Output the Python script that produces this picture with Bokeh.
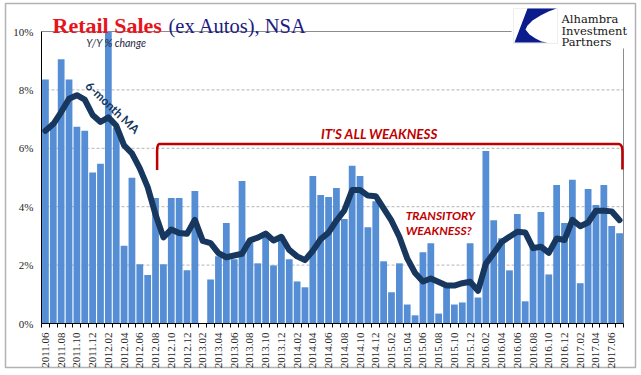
import math
from bokeh.plotting import figure
from bokeh.models import (ColumnDataSource, FixedTicker, Label, BoxAnnotation,
                          PolyAnnotation)
from bokeh.embed import file_html
from bokeh.resources import INLINE

# ---------------- data ----------------
months = [f"{2011 + (5 + i) // 12}.{(5 + i) % 12 + 1:02d}" for i in range(74)]

retail_yoy = [8.36, 6.90, 9.05, 8.36, 6.74, 6.60, 5.17, 5.47, 9.99, 6.71,
              2.66, 4.99, 2.03, 1.66, 4.30, 2.03, 4.30, 4.30, 1.82, 4.54,
              0.00, 1.51, 2.30, 3.44, 2.20, 4.88, 2.77, 2.06, 3.13, 1.99,
              2.99, 2.20, 1.44, 1.24, 5.05, 4.40, 4.33, 4.64, 3.58, 5.40,
              5.05, 3.30, 4.19, 2.13, 1.07, 2.06, 0.65, 0.28, 2.44, 2.75,
              0.34, 1.35, 0.65, 0.72, 2.75, 0.89, 5.91, 3.54, 2.92, 1.82,
              3.75, 0.76, 2.70, 3.82, 1.68, 4.74, 3.44, 4.92, 1.38, 4.61,
              4.06, 4.74, 3.34, 3.09]

ma_6m = [6.60, 6.83, 7.24, 7.70, 7.82, 7.67, 7.14, 6.90, 7.06, 6.78,
         6.10, 5.83, 5.31, 4.67, 3.73, 2.95, 3.22, 3.10, 3.07, 3.55,
         2.83, 2.75, 2.41, 2.27, 2.33, 2.39, 2.85, 2.94, 3.08, 2.84,
         2.97, 2.52, 2.30, 2.17, 2.49, 2.89, 3.11, 3.52, 3.87, 4.57,
         4.57, 4.38, 4.36, 3.94, 3.52, 2.97, 2.23, 1.73, 1.44, 1.54,
         1.42, 1.30, 1.30, 1.38, 1.43, 1.12, 2.05, 2.41, 2.79, 2.97,
         3.14, 3.12, 2.58, 2.63, 2.42, 2.91, 2.86, 3.55, 3.33, 3.46,
         3.86, 3.86, 3.84, 3.54]

y_ticks = [0, 2, 4, 6, 8, 10]
y_tick_labels = ["0%", "2%", "4%", "6%", "8%", "10%"]
grid_levels = [2, 4, 6, 8]

n = len(months)
idx = list(range(n))
src = ColumnDataSource(dict(x=idx, month=months, yoy=retail_yoy, ma=ma_6m))

# ---------------- figure ----------------
W, H = 641, 375
# plot area in the picture: x 41..623 px, y 31 (10%) .. 323 (0%) px
PX_PER_BAR = 582 / n
PX_PER_PCT = 29.2
x0 = -0.5 - 41 / PX_PER_BAR
x1 = n - 0.5 + (W - 623) / PX_PER_BAR
y0 = -(H - 323) / PX_PER_PCT
y1 = 10 + 31 / PX_PER_PCT

p = figure(width=W, height=H, output_backend="svg", toolbar_location=None,
           x_range=(x0, x1), y_range=(y0, y1),
           min_border=0, min_border_left=0, min_border_right=0,
           min_border_top=0, min_border_bottom=0)
p.outline_line_color = None
p.background_fill_color = "white"
p.border_fill_color = "white"
p.xgrid.visible = False
p.ygrid.visible = False

# dashed gridlines across plot area
p.segment(x0=[-0.5] * len(grid_levels), x1=[n - 0.5] * len(grid_levels),
          y0=grid_levels, y1=grid_levels, line_color="#b4b4b4",
          line_dash="3 2", line_width=1)

# plot-area top and right border lines (interrupted by logo)
logo_left_x = (511 - 41) / PX_PER_BAR - 0.5
logo_bottom_y = (323 - 48) / PX_PER_PCT
p.segment(x0=[-0.5, n - 0.5], x1=[logo_left_x, n - 0.5],
          y0=[10, 0], y1=[10, logo_bottom_y], line_color="#8c8c8c", line_width=1)

# bars and MA line
p.vbar(x="x", top="yoy", width=0.86, source=src, fill_color="#558ed5", line_color=None)
p.line(x="x", y="ma", source=src, line_color="#17375e", line_width=6,
       line_join="round", line_cap="round")

# red bracket
bx = [14.2, 14.2, 14.23, 14.33, 14.5, 72.9, 73.15, 73.3, 73.36, 73.36]
by = [5.26, 5.90, 6.04, 6.12, 6.15, 6.15, 6.12, 6.05, 5.93, 5.27]
p.line(bx, by, line_color="#c00000", line_width=2.5, line_join="round")

# axes, fixed inside the canvas
xa = p.xaxis[0]
xa.fixed_location = 0
xa.bounds = (-0.5, n - 0.5)
xa.ticker = FixedTicker(ticks=list(range(0, n, 2)),
                        minor_ticks=[i - 0.5 for i in range(n + 1)])
xa.major_label_overrides = {i: months[i] for i in range(0, n, 2)}
xa.major_label_orientation = math.pi / 2
xa.major_tick_out = 0
xa.major_tick_in = 0
xa.minor_tick_out = 4
xa.minor_tick_in = 0
xa.minor_tick_line_color = "black"
xa.axis_line_color = "black"
xa.major_label_standoff = 5
xa.major_label_text_font = "Liberation Serif"
xa.major_label_text_font_size = "11px"
xa.major_label_text_color = "#262626"

ya = p.yaxis[0]
ya.fixed_location = -0.5
ya.bounds = (0, 10)
ya.ticker = FixedTicker(ticks=y_ticks)
ya.major_label_overrides = dict(zip(y_ticks, y_tick_labels))
ya.major_tick_out = 0
ya.major_tick_in = 0
ya.minor_tick_out = 0
ya.minor_tick_in = 0
ya.axis_line_color = "black"
ya.major_label_standoff = 8
ya.major_label_text_font = "Liberation Serif"
ya.major_label_text_font_size = "11px"
ya.major_label_text_color = "#262626"

# annotations inside the plot (data coordinates)
p.add_layout(Label(x=5.2, y=9.62, text="Y/Y % change", text_font="Lato",
                   text_font_style="italic", text_font_size="10.5px",
                   text_color="#1f2a44", text_baseline="middle"))
p.add_layout(Label(x=8.55, y=7.40, text="6-month MA", text_font="Lato",
                   text_font_style="bold", text_font_size="12px",
                   text_color="#17375e", text_align="center",
                   text_baseline="middle", angle=-0.76))
p.add_layout(Label(x=42.5, y=6.5, text="IT'S ALL WEAKNESS", text_font="Lato",
                   text_font_style="bold italic", text_font_size="13.5px",
                   text_color="#c00000", text_align="center",
                   text_baseline="middle"))
p.add_layout(Label(x=45.8, y=3.70, text="TRANSITORY", text_font="Lato",
                   text_font_style="bold italic", text_font_size="12px",
                   text_color="#c00000", text_baseline="middle"))
p.add_layout(Label(x=45.8, y=3.18, text="WEAKNESS?", text_font="Lato",
                   text_font_style="bold italic", text_font_size="12px",
                   text_color="#c00000", text_baseline="middle"))

# ---- decorations in screen units (canvas px from left, from bottom) ----
def sx(px):
    return px

def sy(py):
    return H - py

def screen_box(l, r, t, b, **kw):
    return BoxAnnotation(left=sx(l), right=sx(r), top=sy(t), bottom=sy(b),
                         left_units="screen", right_units="screen",
                         top_units="screen", bottom_units="screen", **kw)

# title
p.add_layout(Label(x=sx(52), y=sy(25), x_units="screen", y_units="screen",
                   text="Retail Sales", text_font="Liberation Serif",
                   text_font_style="bold", text_font_size="22px",
                   text_color="#e8141c", text_baseline="alphabetic"))
p.add_layout(Label(x=sx(168), y=sy(25), x_units="screen", y_units="screen",
                   text="(ex Autos), NSA", text_font="Liberation Serif",
                   text_font_size="20.5px", text_color="#1c1c80",
                   text_baseline="alphabetic"))

# logo
p.add_layout(screen_box(513, 557, 8, 43, fill_color="white", fill_alpha=1.0,
                        line_color="#c8c8c8", line_width=1))
logo_pts = [(527, 8), (556, 8), (548, 11), (540, 15), (532, 20), (527, 25),
            (525, 29), (529, 34), (535, 38), (541, 41), (547, 42), (514, 42)]
p.add_layout(PolyAnnotation(xs=[sx(a) for a, b in logo_pts],
                            ys=[sy(b) for a, b in logo_pts],
                            xs_units="screen", ys_units="screen",
                            fill_color="#0b1d8c", fill_alpha=1.0, line_color=None))
for txt, base in [("Alhambra", 18), ("Investment", 30), ("Partners", 41)]:
    p.add_layout(Label(x=sx(561), y=sy(base), x_units="screen", y_units="screen",
                       text=txt, text_font="DejaVu Serif",
                       text_font_size="11.5px", text_color="#151515",
                       text_baseline="alphabetic"))

# outer border
p.add_layout(screen_box(5, 635, 3, 367, fill_alpha=0, line_color="black",
                        line_width=1.5))

open("out.html", "w").write(file_html(p, INLINE))
